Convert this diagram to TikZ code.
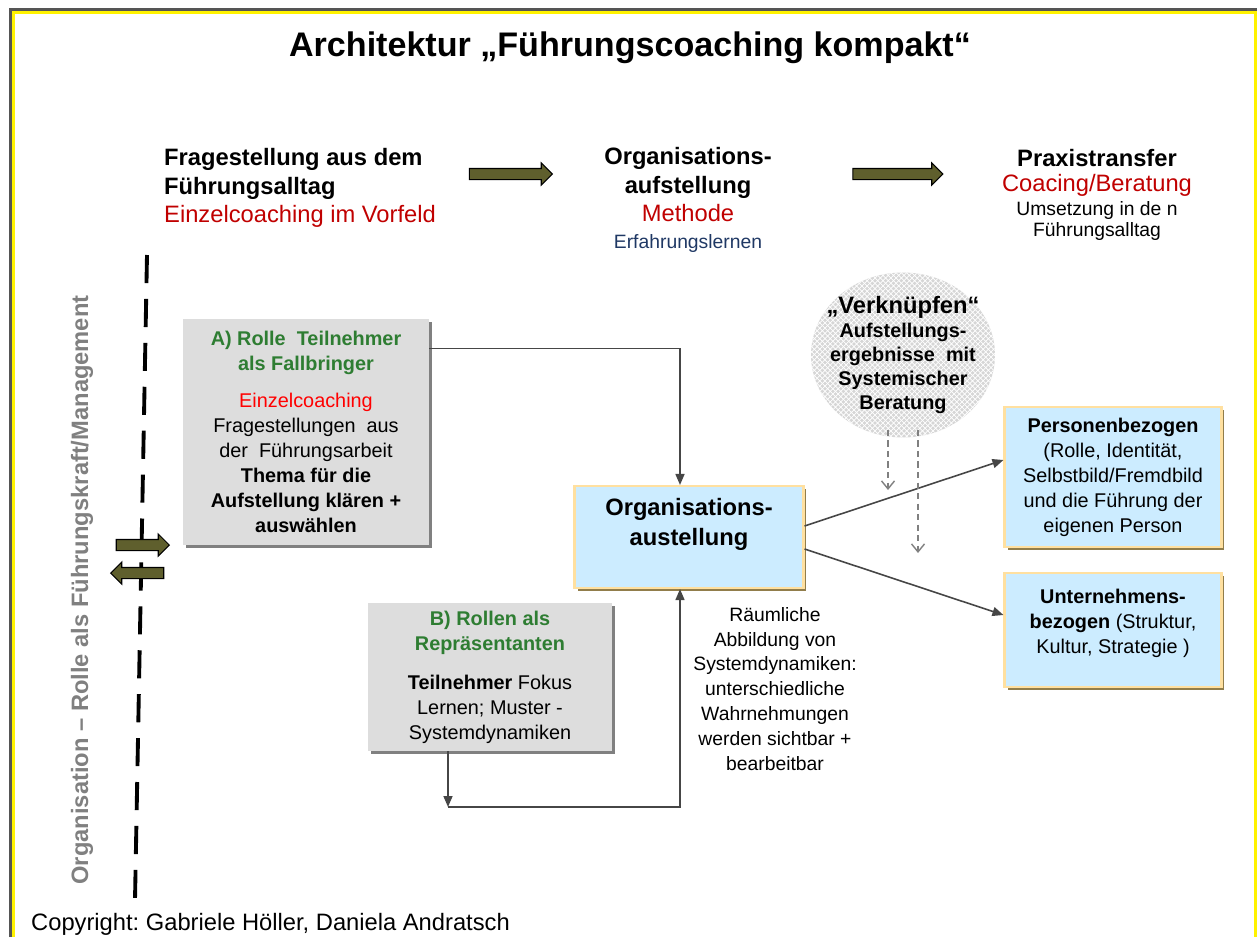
\documentclass[tikz,border=0pt]{standalone}
\usepackage{fontspec}
\setmainfont{Liberation Sans}
\usetikzlibrary{arrows.meta, calc, shapes.geometric, shapes.arrows, shadows, patterns}

\definecolor{framegray}{RGB}{85,85,85}
\definecolor{olivearrow}{RGB}{95,95,45}
\definecolor{rolegreen}{RGB}{46,125,50}
\definecolor{darkred}{RGB}{192,0,0}
\definecolor{navytext}{RGB}{31,56,100}
\definecolor{boxgray}{RGB}{221,221,221}
\definecolor{boxblue}{RGB}{204,236,255}
\definecolor{blueedge}{RGB}{255,224,160}
\definecolor{blueshadow}{RGB}{145,125,75}
\definecolor{linegray}{RGB}{70,70,70}

\newcommand{\fsz}[2]{\fontsize{#1}{#2}\selectfont}

\begin{document}
\frenchspacing
\begin{tikzpicture} [x=0.02cm, y=-0.02cm,
            graybox/.style = {rectangle, fill=boxgray, align=center,
                inner sep=0pt, font=\fsz{11.3}{14.2},
                drop shadow={shadow xshift=0.06cm, shadow yshift=-0.06cm,
                    fill=gray, opacity=1}},
            bluebox/.style = {rectangle, fill=boxblue, draw=blueedge,
                line width=1.2pt, align=center, font=\fsz{11.3}{14.2},
                drop shadow={shadow xshift=0.06cm, shadow yshift=-0.06cm,
                    fill=blueshadow, opacity=1}},
            bigarrow/.style = {single arrow, fill=olivearrow, draw=black,
                line width=0.6pt, inner xsep=0pt, inner ysep=0.1cm,
                minimum width=0.42cm, single arrow head extend=0.11cm},
            flow/.style = {draw=linegray, line width=0.9pt,
                -{Triangle[length=2.2mm, width=1.8mm]}},
            hint/.style = {draw=gray, line width=0.8pt,
                dash pattern=on 3.5pt off 2.5pt,
                -{Straight Barb[length=1.6mm, width=2.6mm]}},
            divider/.style = {line width=2.2pt, dash pattern=on 16pt off 9pt}]

        \useasboundingbox (0,0) rectangle (1257,937);

        % Frame
        \draw [framegray, line width=1.7pt] (10.5,937) -- (10.5,9.5) -- (1257,9.5);
        \draw [yellow, line width=1.2pt] (13.5,937) -- (13.5,12.5)
            -- (1255.5,12.5) -- (1255.5,937);

        % Title
        \node (title) at (630,48)
            {\fsz{19.4}{23}\bfseries Architektur „Führungscoaching kompakt“};

        % Phases
        \node (ask) [anchor=west, align=left, font=\fsz{13.5}{16.2}] at (158,188)
            {\textbf{Fragestellung aus dem}\\
             \textbf{Führungsalltag}\\
             \textcolor{darkred}{Einzelcoaching im Vorfeld}};

        \node (method) [align=center, font=\fsz{13.5}{16.2}] at (688,200)
            {\textbf{Organisations-}\\
             \textbf{aufstellung}\\
             \textcolor{darkred}{Methode}\\[-1pt]
             \textcolor{navytext}{\fsz{11}{13}Erfahrungslernen}};

        \node (transfer) [align=center, font=\fsz{13.5}{14}] at (1097,195)
            {\textbf{Praxistransfer}\\
             \textcolor{darkred}{Coacing/Beratung}\\
             {\fsz{11}{12}Umsetzung in de n}\\[-2pt]
             {\fsz{11}{12}Führungsalltag}};

        \node (step1) [bigarrow, minimum height=1.66cm] at (508,174) {};
        \node (step2) [bigarrow, minimum height=1.8cm] at (895,174) {};

        % Border between organisation and role
        \coordinate (dtop) at (147,255);
        \coordinate (dbot) at (135,900);
        \draw [divider] (dtop) -- (dbot);

        \node (side) [rotate=90, text=gray, font=\fsz{13.5}{16}\bfseries] at (82,590)
            {Organisation – Rolle als Führungskraft/Management};

        \node (goin) [bigarrow, minimum height=1.06cm] at (140,545) {};
        \node (goout) [bigarrow, minimum height=1.06cm,
            shape border rotate=180] at (140,573) {};

        % Role A
        \node (rolea) [graybox, minimum width=4.92cm, minimum height=4.52cm]
            at (306,432)
            {\textcolor{rolegreen}{\textbf{A) Rolle\ \ Teilnehmer}}\\
             \textcolor{rolegreen}{\textbf{als Fallbringer}}\\[7pt]
             \textcolor{red}{Einzelcoaching}\\
             Fragestellungen\ \ aus\\
             der\ \ Führungsarbeit\\
             \textbf{Thema für die}\\
             \textbf{Aufstellung klären +}\\
             \textbf{auswählen}};

        % Role B
        \node (roleb) [graybox, minimum width=4.9cm, minimum height=2.96cm]
            at (490,677)
            {\textcolor{rolegreen}{\textbf{B) Rollen als}}\\
             \textcolor{rolegreen}{\textbf{Repräsentanten}}\\[8pt]
             \textbf{Teilnehmer} Fokus\\
             Lernen; Muster -\\
             Systemdynamiken};

        % Constellation
        \node (orga) [bluebox, minimum width=4.58cm, minimum height=2.04cm,
            font=\fsz{13.5}{17}\bfseries] at (689,537)
            {Organisations-\\ austellung\\ \mbox{}};

        % Results
        \node (person) [bluebox, minimum width=4.34cm, minimum height=2.8cm]
            at (1113,477)
            {\textbf{Personenbezogen}\\
             (Rolle, Identität,\\
             Selbstbild/Fremdbild\\
             und die Führung der\\
             eigenen Person};

        \node (company) [bluebox, minimum width=4.34cm, minimum height=2.28cm]
            at (1113,630)
            {\textbf{Unternehmens-}\\
             \textbf{bezogen} (Struktur,\\
             Kultur, Strategie )\\[-4pt]
             \mbox{}};

        % Linking
        \node (link) [ellipse, minimum width=3.68cm, minimum height=3.3cm,
            fill=black!16, postaction={pattern=crosshatch, pattern color=white}]
            at (903,355) {};
        \node (linktext) [align=center, font=\fsz{11.3}{13.8}\bfseries]
            at (903,355)
            {{\fsz{13.5}{15}„Verknüpfen“}\\
             Aufstellungs-\\
             ergebnisse\ \ mit\\
             Systemischer\\
             Beratung};

        \node (space) [align=center, font=\fsz{11}{14.2}] at (775,689)
            {Räumliche\\
             Abbildung von\\
             Systemdynamiken:\\
             unterschiedliche\\
             Wahrnehmungen\\
             werden sichtbar +\\
             bearbeitbar};

        % Arrows
        \coordinate (loop) at (448,807);
        \coordinate (tipa) at (888,490);
        \coordinate (tipb) at (918,553);

        \draw [flow] ($(rolea.north east)+(0,30)$) -| ($(orga.north)+(-9,0)$);
        \draw [flow] (roleb.south -| loop) -- (loop);
        \draw [flow] (loop) -| ($(orga.south)+(-9,0)$);
        \draw [flow] ($(orga.east)+(0,-11)$) -- ($(person.west)+(0,-17)$);
        \draw [flow] ($(orga.east)+(0,12)$) -- ($(company.west)+(0,-15)$);

        \draw [hint] ($(link.south -| tipa)+(0,-8)$) -- (tipa);
        \draw [hint] ($(link.south -| tipb)+(0,-8)$) -- (tipb);

        % Copyright
        \node (rights) [anchor=base west, font=\fsz{13.5}{16}] at (25,930)
            {Copyright: Gabriele Höller, Daniela Andratsch};
\end{tikzpicture}
\end{document}
